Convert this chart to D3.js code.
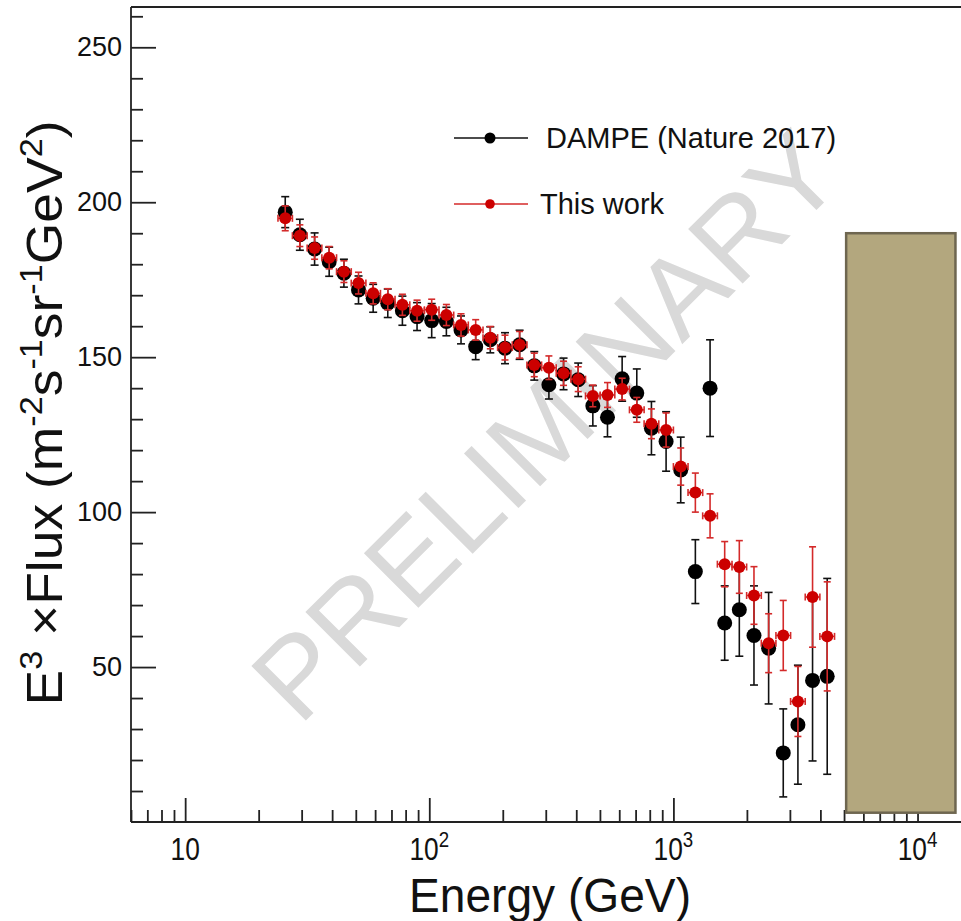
<!DOCTYPE html>
<html>
<head>
<meta charset="utf-8">
<script src="https://cdn.jsdelivr.net/npm/d3@7"></script>
<style>
  body { margin: 0; background: #fff; }
  svg { display: block; }
  text { font-family: "Liberation Sans", Arial, Helvetica, sans-serif; }
</style>
</head>
<body>
<svg id="chart" width="961" height="921"></svg>
<script>
// ---- data ----
const energies = [25.7, 29.5, 33.9, 38.9, 44.7, 51.3, 58.9, 67.6, 77.6, 89.1,
  102.3, 117.5, 134.9, 154.9, 177.8, 204.2, 234.4, 269.2, 309.0, 354.8,
  407.4, 467.7, 537.0, 616.6, 707.9, 812.8, 933.3, 1071.5, 1230, 1413,
  1622, 1862, 2138, 2455, 2818, 3236, 3715, 4266];
const binEdges = [24.0, 27.5, 31.6, 36.3, 41.7, 47.9, 55.0, 63.1, 72.4, 83.2,
  95.5, 109.6, 125.9, 144.5, 166.0, 190.5, 218.8, 251.2, 288.4, 331.1,
  380.2, 436.5, 501.2, 575.4, 660.7, 758.6, 871.0, 1000, 1148, 1318,
  1514, 1738, 1995, 2291, 2630, 3020, 3467, 3981, 4571];
const dampeFlux = [196.8, 189.5, 184.9, 180.8, 177.1, 171.7, 169.0, 167.4, 165.0, 163.1,
  161.8, 161.5, 158.8, 153.4, 155.6, 152.9, 154.0, 147.2, 141.1, 144.6,
  142.7, 134.3, 130.6, 143.0, 138.4, 127.1, 122.8, 113.6, 80.8, 140.0,
  64.2, 68.5, 60.2, 56.1, 22.3, 31.4, 45.7, 47.0];
const dampeErr = [5.0, 5.0, 5.2, 4.7, 4.5, 4.5, 4.5, 4.6, 4.7, 4.5,
  5.5, 4.6, 4.5, 4.2, 4.2, 5.0, 4.7, 4.6, 4.6, 5.1,
  5.4, 6.5, 6.3, 7.2, 7.8, 8.6, 9.6, 10.6, 10.3, 15.6,
  12.0, 15.0, 16.0, 18.0, 14.2, 19.2, 26.0, 31.6];
const thisFlux = [194.8, 189.2, 185.2, 182.1, 177.6, 173.9, 170.6, 168.7, 166.9, 165.0,
  165.3, 163.6, 160.4, 158.8, 156.3, 153.1, 154.0, 147.5, 146.6, 144.8,
  142.9, 137.5, 137.8, 139.7, 133.0, 128.5, 126.5, 114.7, 106.3, 98.8,
  83.2, 82.3, 73.1, 57.7, 60.2, 38.9, 72.6, 59.9];
const thisErr = [4.0, 3.5, 3.6, 3.6, 3.5, 3.5, 3.4, 3.4, 3.4, 3.4,
  3.4, 3.4, 3.6, 3.3, 3.6, 4.0, 4.3, 3.8, 3.8, 3.9,
  4.0, 3.5, 4.0, 3.5, 4.0, 4.8, 5.5, 6.0, 6.3, 7.1,
  7.3, 8.5, 9.3, 9.5, 11.3, 11.3, 16.2, 17.6];
const bandEnergy = [5100, 14300];
const bandFlux = [3, 190];
const xMajorTicks = [10, 100, 1000, 10000];
const xTickBase = ["10", "10", "10", "10"];
const xTickExp = ["", "2", "3", "4"];
const yMajorTicks = [50, 100, 150, 200, 250];
const seriesNames = ["DAMPE (Nature 2017)", "This work"];

(function(){
  // ---- layout ----
  const svg = d3.select("#chart");
  const W = 961, H = 921;
  const pl = 131, pt = 7, pr = 964, pb = 822;

  const x = d3.scaleLog().domain([6, 15500]).range([pl, pr]);
  const y = d3.scaleLinear().domain([0, 263]).range([pb, pt]);

  const RED = "#cc0000", RED_LINE = "#d42a2a", INK = "#111";

  svg.append("rect").attr("width", W).attr("height", H).attr("fill", "#fff");

  // watermark behind everything
  svg.append("text")
    .attr("transform", "translate(546,426) rotate(-45)")
    .attr("text-anchor", "middle")
    .attr("dominant-baseline", "central")
    .attr("font-size", 112)
    .attr("textLength", 775)
    .attr("lengthAdjust", "spacingAndGlyphs")
    .attr("fill", "#d9d9d9")
    .text("PRELIMINARY");

  // ---- axes ----
  const gx = svg.append("g").attr("transform", `translate(0,${pb})`);
  const xMinor = x.ticks().filter(v => !xMajorTicks.includes(v));
  gx.call(d3.axisBottom(x).tickValues(xMinor).tickSize(-12).tickFormat(""));
  gx.select(".domain").remove();
  const gxMaj = svg.append("g").attr("transform", `translate(0,${pb})`)
    .call(d3.axisBottom(x).tickValues(xMajorTicks).tickSize(-24).tickPadding(0).tickFormat(""));
  gxMaj.select(".domain").attr("d", `M${pl},0H${W}`);
  [gx, gxMaj].forEach(g => g.selectAll("line,path").attr("stroke", "#222").attr("stroke-width", 1.8));

  // x tick labels with superscripts (condensed, like the original)
  const xl = svg.append("g");
  xMajorTicks.forEach((v, i) => {
    const t = xl.append("text")
      .attr("transform", `translate(${x(v)},${pb + 38}) scale(0.85,1)`)
      .attr("text-anchor", "middle")
      .attr("font-size", 31).attr("fill", INK);
    t.append("tspan").text(xTickBase[i]);
    if (xTickExp[i]) t.append("tspan").attr("dy", -13).attr("font-size", 22).text(xTickExp[i]);
  });

  const gy = svg.append("g").attr("transform", `translate(${pl},0)`);
  const yMinor = d3.range(10, 261, 10).filter(v => v % 50 !== 0);
  gy.call(d3.axisLeft(y).tickValues(yMinor).tickSize(-12).tickFormat(""));
  gy.select(".domain").remove();
  const gyMaj = svg.append("g").attr("transform", `translate(${pl},0)`)
    .call(d3.axisLeft(y).tickValues(yMajorTicks).tickSize(-25).tickPadding(9).tickFormat(d3.format("d")));
  gyMaj.select(".domain").attr("d", `M0,${pb}V${pt}`);
  [gy, gyMaj].forEach(g => g.selectAll("line,path").attr("stroke", "#222").attr("stroke-width", 1.8));
  gyMaj.selectAll("text").attr("font-size", 27).attr("fill", INK)
    .attr("font-family", "'Liberation Sans', Arial, sans-serif");

  // top frame
  svg.append("line").attr("x1", pl).attr("x2", W).attr("y1", pt).attr("y2", pt)
    .attr("stroke", "#222").attr("stroke-width", 1.8);

  // axis titles
  svg.append("text")
    .attr("x", 550).attr("y", 912)
    .attr("text-anchor", "middle")
    .attr("font-size", 48).attr("fill", INK)
    .attr("textLength", 282).attr("lengthAdjust", "spacingAndGlyphs")
    .text("Energy (GeV)");

  const yt = svg.append("text")
    .attr("transform", "translate(62,413) rotate(-90)")
    .attr("text-anchor", "middle")
    .attr("font-size", 50).attr("fill", INK)
    .attr("textLength", 585).attr("lengthAdjust", "spacingAndGlyphs");
  const parts = [["E", 0], ["3", 1], [" \u00d7Flux (m", 0], ["-2", 1], ["s", 0], ["-1", 1],
    ["sr", 0], ["-1", 1], ["GeV", 0], ["2", 1], [")", 0]];
  let up = false;
  parts.forEach(([s, sup]) => {
    const ts = yt.append("tspan").text(s);
    if (sup) { ts.attr("font-size", 32); if (!up) { ts.attr("dy", -20); up = true; } }
    else if (up) { ts.attr("dy", 20); up = false; }
  });

  // ---- data marks ----
  const capB = 4, capR = 3.5;
  const gB = svg.append("g");
  energies.forEach((e, i) => {
    const cx = x(e), v = dampeFlux[i], er = dampeErr[i];
    gB.append("line").attr("x1", cx).attr("x2", cx).attr("y1", y(v + er)).attr("y2", y(v - er))
      .attr("stroke", INK).attr("stroke-width", 1.6);
    [v + er, v - er].forEach(c => gB.append("line")
      .attr("x1", cx - capB).attr("x2", cx + capB).attr("y1", y(c)).attr("y2", y(c))
      .attr("stroke", INK).attr("stroke-width", 1.6));
    gB.append("circle").attr("cx", cx).attr("cy", y(v)).attr("r", 7.5).attr("fill", "#000");
  });

  const gR = svg.append("g");
  energies.forEach((e, i) => {
    const cx = x(e), v = thisFlux[i], cy = y(v), er = thisErr[i];
    const x0 = x(binEdges[i]), x1 = x(binEdges[i + 1]);
    gR.append("line").attr("x1", cx).attr("x2", cx).attr("y1", y(v + er)).attr("y2", y(v - er))
      .attr("stroke", RED_LINE).attr("stroke-width", 1.6);
    [v + er, v - er].forEach(c => gR.append("line")
      .attr("x1", cx - capR).attr("x2", cx + capR).attr("y1", y(c)).attr("y2", y(c))
      .attr("stroke", RED_LINE).attr("stroke-width", 1.6));
    gR.append("line").attr("x1", x0).attr("x2", x1).attr("y1", cy).attr("y2", cy)
      .attr("stroke", RED_LINE).attr("stroke-width", 1.6);
    [x0, x1].forEach(xx => gR.append("line")
      .attr("x1", xx).attr("x2", xx).attr("y1", cy - capR).attr("y2", cy + capR)
      .attr("stroke", RED_LINE).attr("stroke-width", 1.6));
    gR.append("circle").attr("cx", cx).attr("cy", cy).attr("r", 6).attr("fill", RED);
  });

  // shaded band
  svg.append("rect")
    .attr("x", x(bandEnergy[0])).attr("y", y(bandFlux[1]))
    .attr("width", x(bandEnergy[1]) - x(bandEnergy[0]))
    .attr("height", y(bandFlux[0]) - y(bandFlux[1]))
    .attr("fill", "#b3a77e").attr("stroke", "#6e6650").attr("stroke-width", 2.5);

  // ---- legend ----
  const legY = [138, 204], legColor = [INK, RED_LINE], legDot = ["#000", RED], legR = [5.5, 4.8];
  const legTextX = [546, 540];
  seriesNames.forEach((name, i) => {
    const g = svg.append("g");
    g.append("line").attr("x1", 454).attr("x2", 528).attr("y1", legY[i]).attr("y2", legY[i])
      .attr("stroke", legColor[i]).attr("stroke-width", 1.6);
    g.append("circle").attr("cx", 490).attr("cy", legY[i]).attr("r", legR[i]).attr("fill", legDot[i]);
    g.append("text").attr("x", legTextX[i]).attr("y", legY[i] + 10)
      .attr("font-size", 29).attr("fill", INK).text(name);
  });
})();
</script>
</body>
</html>
